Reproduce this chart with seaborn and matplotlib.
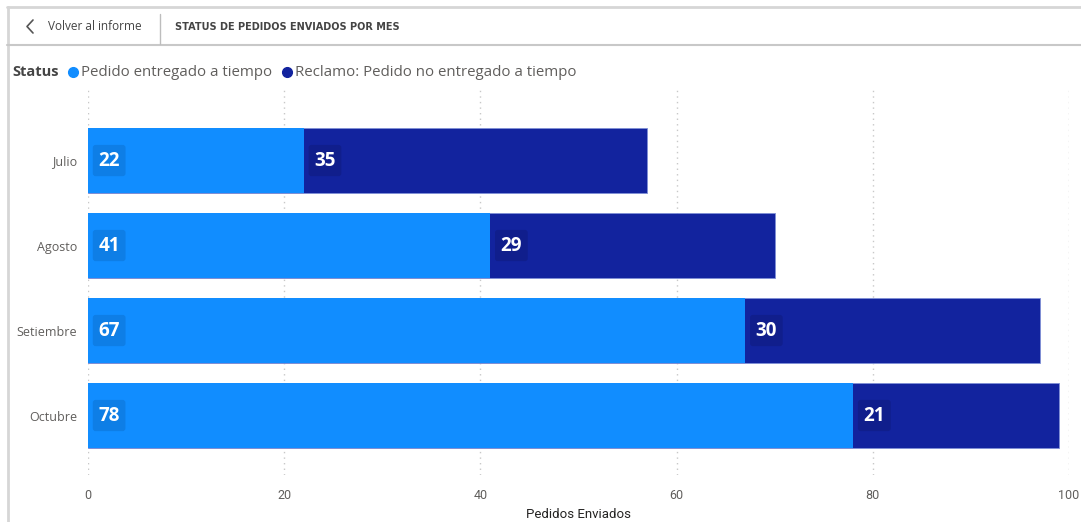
import matplotlib
matplotlib.use("Agg")
import matplotlib.pyplot as plt
from matplotlib.lines import Line2D
import seaborn as sns
import pandas as pd

# ---- data ----
meses = ["Julio", "Agosto", "Setiembre", "Octubre"]
a_tiempo = [22, 41, 67, 78]
reclamo = [35, 29, 30, 21]
series = ["Pedido entregado a tiempo", "Reclamo: Pedido no entregado a tiempo"]
xticks = [0, 20, 40, 60, 80, 100]

C_LIGHT = "#118DFF"
C_DARK = "#12239E"

sns.set_theme(style="white")
plt.rcParams['font.family'] = ['Open Sans', 'DejaVu Sans']

W, H = 1081, 522
fig = plt.figure(figsize=(W / 100, H / 100), dpi=100)
fig.patch.set_facecolor("white")

def fx(px):
    return px / W

def fy(py):
    return 1 - py / H

ax = fig.add_axes([fx(88), fy(475), fx(1069) - fx(88), (475 - 90) / H])

df_tot = pd.DataFrame({"mes": meses, "valor": [a + r for a, r in zip(a_tiempo, reclamo)]})
df_a = pd.DataFrame({"mes": meses, "valor": a_tiempo})

sns.barplot(data=df_tot, y="mes", x="valor", color=C_DARK, saturation=1,
            width=0.765, ax=ax, orient="h", zorder=3, edgecolor="#7f8fd6", linewidth=0.6)
sns.barplot(data=df_a, y="mes", x="valor", color=C_LIGHT, saturation=1,
            width=0.765, ax=ax, orient="h", zorder=4, linewidth=0)

ax.set_xlim(0, 100)
ax.set_ylim(3.7, -0.83)
ax.set_xticks(xticks)
ax.set_xticklabels([str(t) for t in xticks], fontsize=9, color="#605E5C", family=['Roboto', 'DejaVu Sans'])
ax.tick_params(axis="x", length=0, pad=10)
ax.tick_params(axis="y", length=0, pad=8, labelsize=9, labelcolor="#605E5C")
for t in xticks:
    ax.axvline(t, color="#C8C8C8", linestyle=(0, (1, 3)), linewidth=1, zorder=1)
for s in ax.spines.values():
    s.set_visible(False)
ax.set_ylabel("")
ax.set_xlabel("")
fig.text(fx(578), fy(514), "Pedidos Enviados", fontsize=9.5, color="#252423", ha="center", va="center",
         family=['Roboto', 'DejaVu Sans'])

# data labels
for i, (a, r) in enumerate(zip(a_tiempo, reclamo)):
    ax.annotate(str(a), xy=(0, i), xytext=(7.5, 0), textcoords="offset points",
                ha="left", va="center", color="white", fontsize=13.5, fontweight="bold", zorder=6,
                bbox=dict(boxstyle="round,pad=0.3,rounding_size=0.15", fc="#0E7EE6", ec="none"))
    ax.annotate(str(r), xy=(a, i), xytext=(7.5, 0), textcoords="offset points",
                ha="left", va="center", color="white", fontsize=13.5, fontweight="bold", zorder=6,
                bbox=dict(boxstyle="round,pad=0.3,rounding_size=0.15", fc="#101E8C", ec="none"))

# frame / header
border = "#D6D6D6"
fig.add_artist(Line2D([fx(8), fx(8)], [fy(7), 0], color=border, lw=2))
fig.add_artist(Line2D([fx(7), 1], [fy(7), fy(7)], color=border, lw=2))
fig.add_artist(Line2D([fx(7), 1], [fy(45), fy(45)], color="#C8C8C8", lw=1.5))
fig.add_artist(Line2D([fx(160), fx(160)], [fy(14), fy(44)], color="#BDBDBD", lw=1))
fig.add_artist(Line2D([fx(33), fx(27), fx(33)], [fy(20), fy(26.5), fy(33)], color="#555555", lw=1.2))
fig.text(fx(48), fy(27), "Volver al informe", fontsize=8.5, color="#444444", va="center", ha="left")
fig.text(fx(175), fy(27), "STATUS DE PEDIDOS ENVIADOS POR MES", fontsize=7, fontweight="bold",
         color="#444444", va="center", ha="left", family=['DejaVu Sans'])

# legend
fig.text(fx(12), fy(72), "Status", fontsize=10.5, fontweight="bold", color="#444444", va="center", ha="left")
fig.add_artist(Line2D([fx(73)], [fy(72)], marker="o", markersize=7, color=C_LIGHT, lw=0))
fig.text(fx(81), fy(72), series[0], fontsize=10.8, color="#605E5C", va="center", ha="left")
fig.add_artist(Line2D([fx(287)], [fy(72)], marker="o", markersize=7, color=C_DARK, lw=0))
fig.text(fx(295), fy(72), series[1], fontsize=10.8, color="#605E5C", va="center", ha="left")

fig.savefig("out.png", dpi=100, facecolor="white")
